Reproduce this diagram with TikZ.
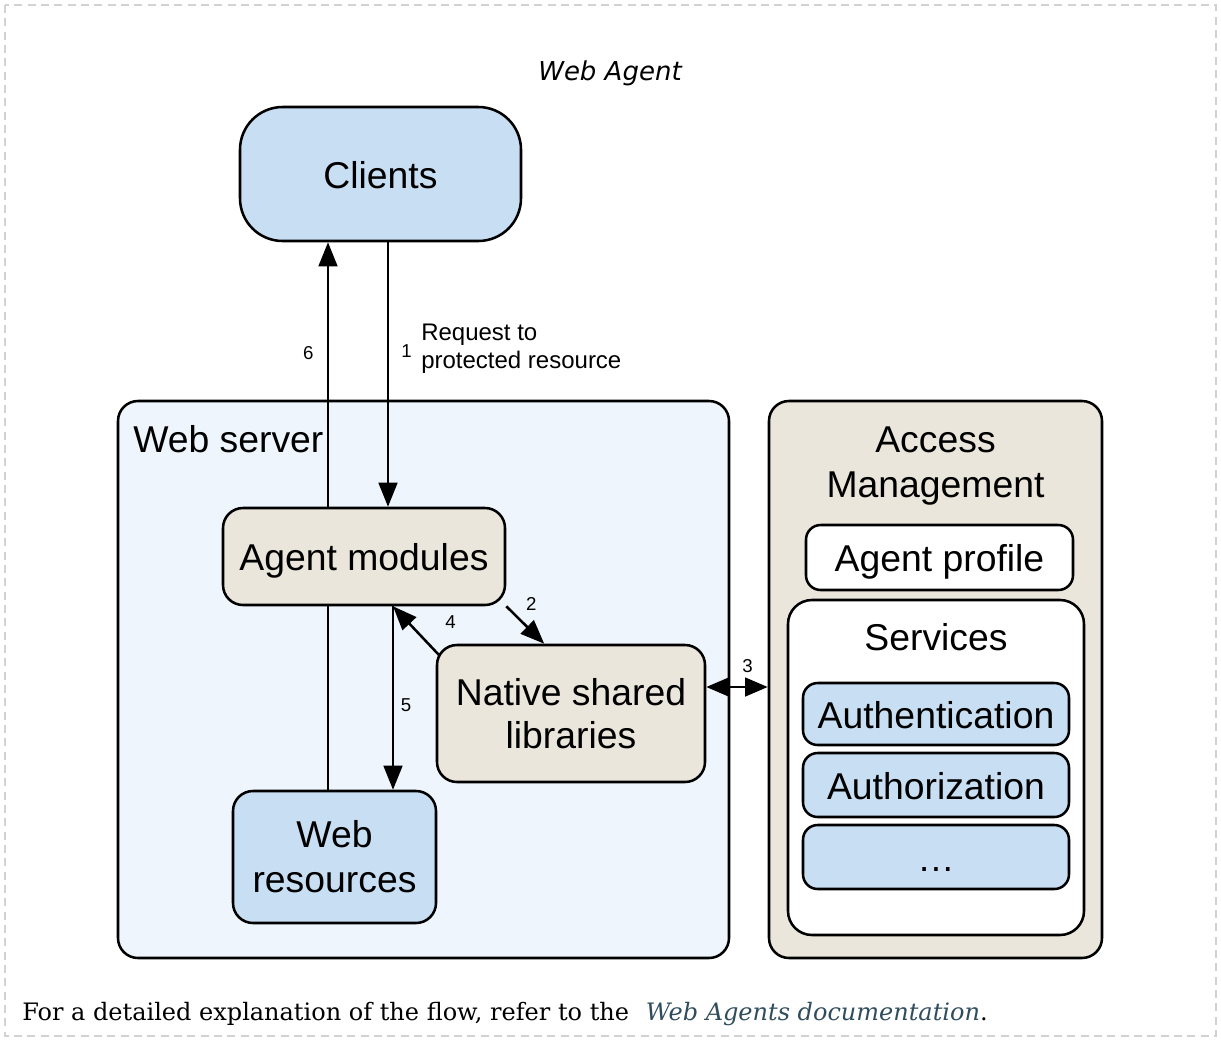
\documentclass[tikz,border=0pt]{standalone}
\usepackage{fontspec}
\usepackage{xcolor}
\usetikzlibrary{arrows.meta,positioning}
\setmainfont{Liberation Sans}
\newfontfamily\titlefont{DejaVu Sans}
\newfontfamily\notefont{DejaVu Serif}

\definecolor{skyfill}{HTML}{C8DEF2}
\definecolor{serverfill}{HTML}{EEF5FC}
\definecolor{tanfill}{HTML}{EBE6DB}
\definecolor{linkcol}{HTML}{2F4D5C}

\tikzset{
    box/.style={draw, line width=1.9pt, rounded corners=15pt, inner sep=0pt,
        align=center, font=\fontsize{28}{33.75}\selectfont},
    oneline/.style={text height=21.5pt, text depth=0pt},
    skybox/.style={box, fill=skyfill},
    tanbox/.style={box, fill=tanfill},
    whitebox/.style={box, fill=white},
    biglabel/.style={align=center, inner sep=0pt, font=\fontsize{28}{33.75}\selectfont},
    num/.style={inner sep=0pt, font=\fontsize{14}{17}\selectfont},
    flow/.style={line width=1.9pt, -{Triangle[length=18pt,width=14pt]}},
    twoway/.style={line width=1.9pt, {Triangle[length=17pt,width=14pt]}-{Triangle[length=17pt,width=14pt]}},
}

\begin{document}
\begin{tikzpicture}[x=0.75pt,y=-0.75pt]
            \useasboundingbox (0,0) rectangle (1221,1040);
            \draw[gray!35, line width=1.2pt, dash pattern=on 6pt off 4pt] (5,5) rectangle (1216,1036);
            \node (title) at (610,73) [font=\titlefont\itshape\fontsize{19.5}{22}\selectfont] {Web Agent};

            % web server side
            \node (server) at (423.5,679.5) [box, fill=serverfill, minimum width=458.25pt, minimum height=417.75pt] {};
            \node (serverlabel) at (133,452) [biglabel, anchor=base west] {Web server};
            \node (clients) at (380.5,174) [skybox, oneline, rounded corners=32pt, minimum width=210.75pt, minimum height=100.5pt] {Clients};
            \node (agent) at (364,556.5) [tanbox, oneline, minimum width=211.5pt, minimum height=72.75pt] {Agent modules};
            \node (native) at (571,713.5) [tanbox, minimum width=201pt, minimum height=102.75pt] {\raisebox{-2pt}{Native shared}\\libraries};
            \node (res) at (334.5,857) [skybox, minimum width=152.25pt, minimum height=99pt] {Web\\resources};

            % access management side
            \node (am) at (935.5,679.5) [tanbox, minimum width=249.75pt, minimum height=417.75pt] {};
            \node (amlabel) at (935.5,466) [biglabel] {Access\\Management};
            \node (profile) at (939.5,557.5) [whitebox, oneline, rounded corners=11pt, minimum width=200.25pt, minimum height=48.75pt] {Agent profile};
            \node (services) at (936,767.5) [whitebox, rounded corners=18pt, minimum width=222pt, minimum height=251.25pt] {};
            \node (serviceslabel) at (936,636) [biglabel, oneline] {Services};
            \node (authn) at (936,714) [skybox, oneline, rounded corners=11pt, minimum width=199.5pt, minimum height=46.5pt] {Authentication};
            \node (authz) at (936,785) [skybox, oneline, rounded corners=11pt, minimum width=199.5pt, minimum height=48pt] {Authorization};
            \node (more) at (936,857) [skybox, oneline, rounded corners=11pt, minimum width=199.5pt, minimum height=48pt] {…};

            \coordinate (up) at (328,0);
            \coordinate (down) at (388,0);
            \coordinate (mid) at (393,0);
            \coordinate (lvl) at (0,687);

            \draw[line width=1.9pt] (res.north -| up) -- (agent.south -| up);
            \draw[flow] (agent.north -| up) -- (clients.south -| up) node[num, pos=0.58, left=10pt] {6};
            \draw[flow] (clients.south -| down) -- (agent.north -| down) node[num, pos=0.41, right=9pt] {1};
            \node (request) at (421,349) [anchor=west, align=left, inner sep=0pt, font=\fontsize{18}{21}\selectfont] {Request to\\protected resource};
            \draw[flow] (agent.south east) -- (native.111) node[num, pos=0.35, above right=6pt and 4pt] {2};
            \draw[twoway] (native.east |- lvl) -- (am.west |- lvl) node[num, pos=0.67, above=10pt] {3};
            \draw[flow] ([shift={(3,11)}]native.north west) -- (agent.south -| mid) node[num, pos=0.35, above right=6pt and 16pt] {4};
            \draw[flow] (agent.south -| mid) -- (res.north -| mid) node[num, pos=0.54, right=5pt] {5};

            \node (note) at (22,1020) [anchor=base west, inner sep=0pt, font=\notefont\fontsize{18}{22}\selectfont]
                {For a detailed explanation of the flow, refer to the\hspace{0.7em}{\color{linkcol}\itshape Web Agents documentation}.};
        \end{tikzpicture}
\end{document}
